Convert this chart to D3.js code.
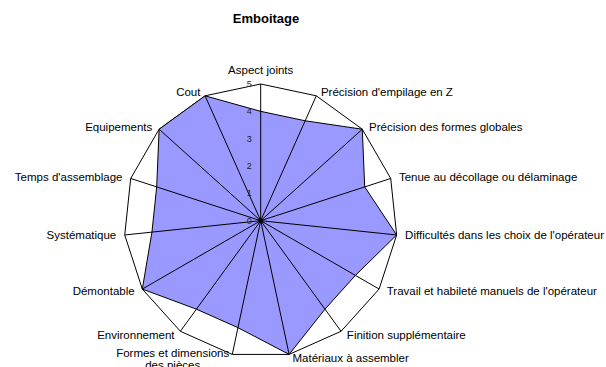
<!DOCTYPE html>
<html>
<head>
<meta charset="utf-8">
<script src="https://cdn.jsdelivr.net/npm/d3@7"></script>
<style>
html,body{margin:0;padding:0;background:#fff;}
svg{display:block;font-family:"Liberation Sans",Arial,sans-serif;}
</style>
</head>
<body>
<svg id="chart" width="606" height="367"></svg>
<script>
const title = "Emboitage";
const categories = [
  "Aspect joints",
  "Précision d'empilage en Z",
  "Précision des formes globales",
  "Tenue au décollage ou délaminage",
  "Difficultés dans les choix de l'opérateur",
  "Travail et habileté manuels de l'opérateur",
  "Finition supplémentaire",
  "Matériaux à assembler",
  "Formes et dimensions\ndes pièces",
  "Environnement",
  "Démontable",
  "Systématique",
  "Temps d'assemblage",
  "Equipements",
  "Cout"
];
const values = [4, 4, 5, 4, 5, 4, 4, 5, 4, 4, 5, 4, 4, 5, 5];
const tickLabels = [0, 1, 2, 3, 4, 5];

const svg = d3.select("#chart");
const cx = 260.7, cy = 220.7;
const r = d3.scaleLinear().domain([0, 5]).range([0, 136.7]);
const n = categories.length;
const ang = d3.scaleLinear().domain([0, n]).range([0, 2 * Math.PI]);
const pt = (i, v) => [cx + r(v) * Math.sin(ang(i)), cy - r(v) * Math.cos(ang(i))];

// Title
svg.append("text").attr("x", 266).attr("y", 18)
  .attr("text-anchor", "middle").attr("dominant-baseline", "central")
  .attr("font-weight", "bold").attr("font-size", 13).text(title);

// Outer grid polygon
const line = d3.line().curve(d3.curveLinearClosed);
svg.append("path")
  .attr("d", line(categories.map((c, i) => pt(i, 5))))
  .attr("fill", "none").attr("stroke", "#000").attr("stroke-width", 1);

// Series area
svg.append("path")
  .attr("d", line(values.map((v, i) => pt(i, v))))
  .attr("fill", "#9999FF").attr("stroke", "#000").attr("stroke-width", 1);

// Spokes
svg.append("g").selectAll("line").data(categories).join("line")
  .attr("x1", cx).attr("y1", cy)
  .attr("x2", (d, i) => pt(i, 5)[0]).attr("y2", (d, i) => pt(i, 5)[1])
  .attr("stroke", "#000").attr("stroke-width", 1);

svg.append("circle").attr("cx", cx).attr("cy", cy).attr("r", 2.5).attr("fill", "#000");

// Tick labels
svg.append("g").selectAll("text").data(tickLabels).join("text")
  .attr("x", cx - 9).attr("y", d => cy - r(d))
  .attr("text-anchor", "end").attr("dominant-baseline", "central")
  .attr("font-size", 9).attr("fill", "#222").text(d => d);

// Category labels
const lg = svg.append("g").attr("font-size", 11.5).attr("fill", "#000");
categories.forEach((c, i) => {
  const a = ang(i);
  const [x, y] = pt(i, 5);
  const s = Math.sin(a), co = Math.cos(a);
  const lines = c.split("\n");
  if (i === 0) {
    lg.append("text").attr("x", x).attr("y", y - 14)
      .attr("text-anchor", "middle").attr("dominant-baseline", "central").text(c);
    return;
  }
  if (lines.length > 1) {
    const t1 = lg.append("text").attr("x", x - 3).attr("y", y - 1)
      .attr("text-anchor", "end").attr("dominant-baseline", "central").text(lines[0]);
    const w = t1.node().getComputedTextLength();
    lg.append("text").attr("x", x - 3 - w / 2).attr("y", y + 11)
      .attr("text-anchor", "middle").attr("dominant-baseline", "central").text(lines[1]);
    return;
  }
  const dx = (2 + 6.5 * Math.abs(s)) * (s > 0 ? 1 : -1);
  const dy = -4 * co;
  lg.append("text").attr("x", x + dx).attr("y", y + dy)
    .attr("text-anchor", s > 0 ? "start" : "end")
    .attr("dominant-baseline", "central").text(c);
});
</script>
</body>
</html>
